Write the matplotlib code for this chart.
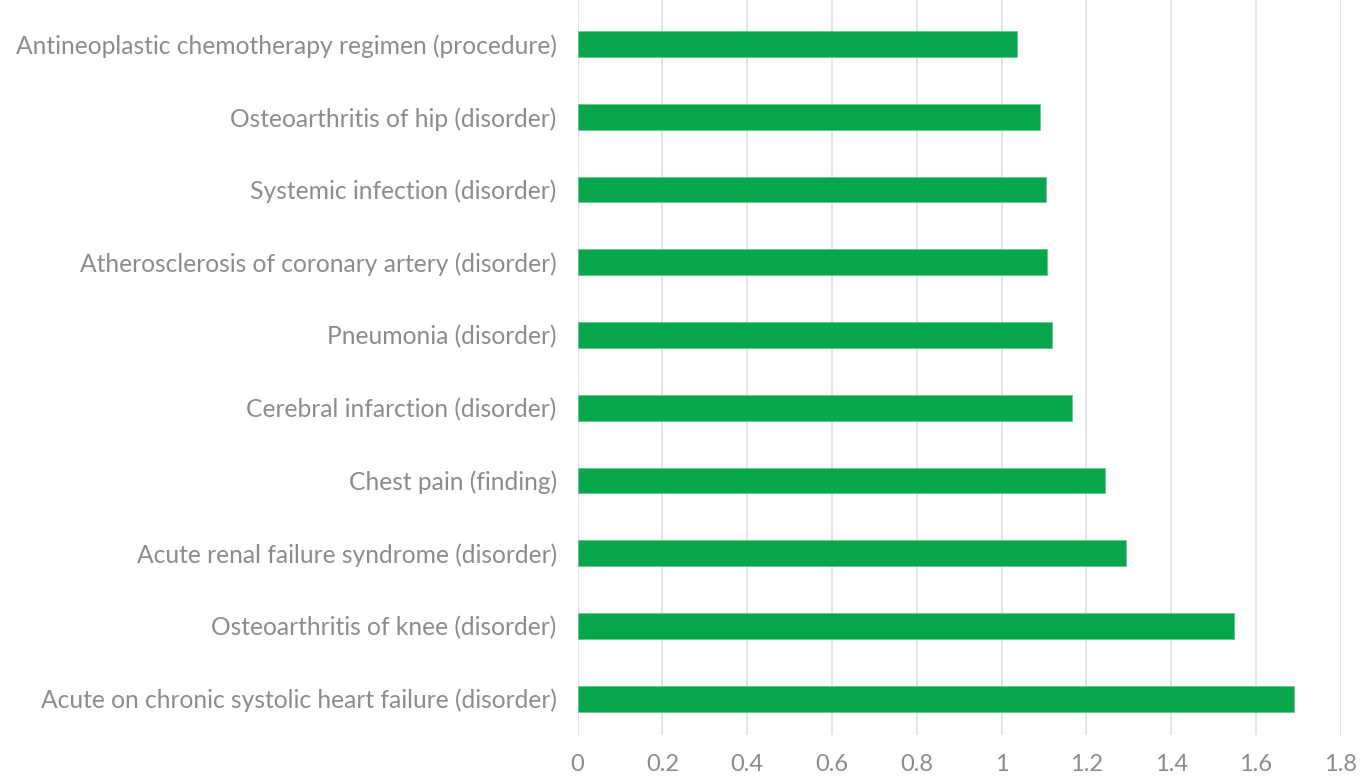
import matplotlib
matplotlib.use("Agg")
import matplotlib.pyplot as plt

labels = [
    "Acute on chronic systolic heart failure (disorder)",
    "Osteoarthritis of knee (disorder)",
    "Acute renal failure syndrome (disorder)",
    "Chest pain (finding)",
    "Cerebral infarction (disorder)",
    "Pneumonia (disorder)",
    "Atherosclerosis of coronary artery (disorder)",
    "Systemic infection (disorder)",
    "Osteoarthritis of hip (disorder)",
    "Antineoplastic chemotherapy regimen (procedure)",
]
values = [1.691, 1.548, 1.293, 1.245, 1.166, 1.120, 1.108, 1.104, 1.090, 1.036]
xticks = [0, 0.2, 0.4, 0.6, 0.8, 1, 1.2, 1.4, 1.6, 1.8]
xtick_labels = ["0", "0.2", "0.4", "0.6", "0.8", "1", "1.2", "1.4", "1.6", "1.8"]

GREEN = "#07A64A"
TEXT = "#8C8C8C"
GRID = "#E3E3E3"

plt.rcParams["font.family"] = ["Lato", "DejaVu Sans"]

fig = plt.figure(figsize=(13.6, 7.76), dpi=100)
ax = fig.add_axes([577.5 / 1360, 41 / 776, (1340.7 - 577.5) / 1360, 735 / 776])

ax.barh(range(len(values)), values, height=0.355, color=GREEN,
        edgecolor="#5FCB8A", linewidth=0.6, zorder=3)

ax.set_xlim(0, 1.8)
ax.set_ylim(-0.5, 9.605)
ax.set_xticks(xticks, xtick_labels)
ax.set_yticks(range(len(labels)), labels)
ax.tick_params(axis="both", length=0, colors=TEXT)
ax.tick_params(axis="x", pad=14, labelsize=17)
ax.tick_params(axis="y", pad=15, labelsize=17.7)
ax.grid(axis="x", color=GRID, linewidth=1.3, zorder=0)
for s in ax.spines.values():
    s.set_visible(False)

fig.savefig("out.png", dpi=100)
